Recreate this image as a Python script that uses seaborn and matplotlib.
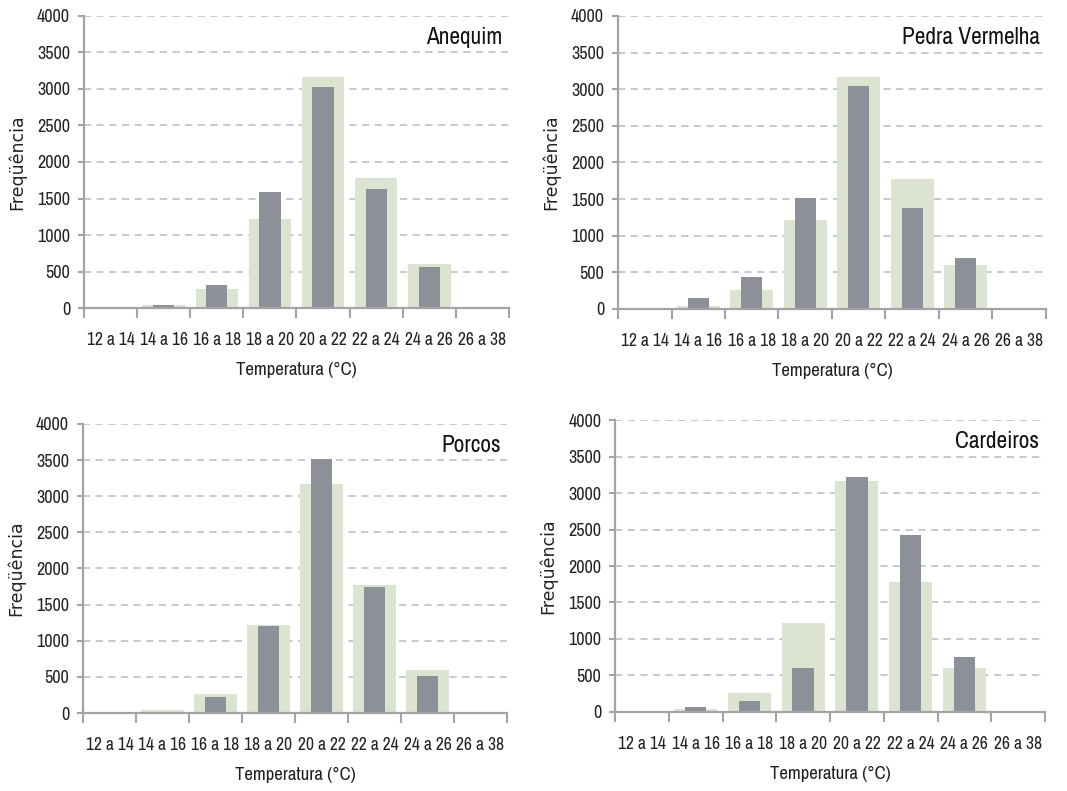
import matplotlib
matplotlib.use("Agg")
import matplotlib.pyplot as plt
from matplotlib import font_manager
import seaborn as sns
import pandas as pd
import numpy as np
from matplotlib.ticker import FixedLocator, NullFormatter

# Temperature classes (°C)
classes = ["12 a 14", "14 a 16", "16 a 18", "18 a 20", "20 a 22", "22 a 24", "24 a 26", "26 a 38"]

# Overall reference distribution (wide pale bars, identical in every panel)
overall = [5, 40, 265, 1215, 3165, 1775, 600, 10]

# Per-site frequencies (narrow grey bars)
anequim = [0, 45, 320, 1590, 3030, 1630, 565, 10]
pedra_vermelha = [0, 145, 440, 1510, 3040, 1385, 690, 10]
porcos = [0, 5, 215, 1200, 3510, 1740, 510, 5]
cardeiros = [0, 70, 145, 600, 3220, 2430, 750, 10]

sites = ["Anequim", "Pedra Vermelha", "Porcos", "Cardeiros"]
site_values = [anequim, pedra_vermelha, porcos, cardeiros]

sns.set_style("white")

# prefer a narrow face for the labels when one is available
available = {f.name for f in font_manager.fontManager.ttflist}
narrow = [n for n in sorted(available) if "Narrow" in n or "Condensed" in n]
if narrow:
    label_family = [narrow[0], "Liberation Sans", "DejaVu Sans"]
    sizes = dict(xtick=12.6, ytick=13, xlabel=13.5, name=16.8)
else:
    label_family = ["Liberation Sans", "DejaVu Sans"]
    sizes = dict(xtick=10, ytick=10.5, xlabel=11.5, name=14)
plt.rcParams["font.family"] = label_family

fig = plt.figure(figsize=(10.67, 7.91), dpi=100)
positions = [
    [0.0787, 0.6106, 0.3983, 0.3692],
    [0.5792, 0.6094, 0.4011, 0.3704],
    [0.0778, 0.0986, 0.3974, 0.3654],
    [0.5764, 0.0999, 0.4030, 0.3691],
]

pale = "#dde3d1"
grey = "#8d9098"
axis_col = "#a3a3a8"
grid_col = "#c4c4cc"
text_col = "#222222"

for pos, name, vals in zip(positions, sites, site_values):
    ax = fig.add_axes(pos)
    df_all = pd.DataFrame({"classe": classes, "freq": overall})
    df_site = pd.DataFrame({"classe": classes, "freq": vals})
    sns.barplot(data=df_all, x="classe", y="freq", color=pale, width=0.8,
                saturation=1, ax=ax, zorder=2, linewidth=0, edgecolor="none")
    sns.barplot(data=df_site, x="classe", y="freq", color=grey, width=0.4,
                saturation=1, ax=ax, zorder=3, linewidth=0, edgecolor="none")

    ax.set_xlim(-0.5, len(classes) - 0.5)
    ax.set_ylim(0, 4000)
    ax.set_yticks(np.arange(0, 4001, 500))
    ax.yaxis.grid(True, linestyle=(0, (4, 3)), color=grid_col, linewidth=1.3)
    ax.xaxis.grid(False)
    ax.set_axisbelow(True)

    for s in ["top", "right"]:
        ax.spines[s].set_visible(False)
    for s in ["left", "bottom"]:
        ax.spines[s].set_color(axis_col)
        ax.spines[s].set_linewidth(1.6)
        ax.spines[s].set_zorder(4)

    # class labels centred, tick marks on the class boundaries
    ax.tick_params(axis="x", which="major", bottom=True, length=0, pad=17,
                   labelsize=sizes["xtick"], colors=text_col)
    ax.xaxis.set_minor_locator(FixedLocator(np.arange(-0.5, len(classes), 1.0)))
    ax.xaxis.set_minor_formatter(NullFormatter())
    ax.tick_params(axis="x", which="minor", bottom=True, length=7, width=1.5,
                   color=axis_col, direction="out")
    ax.tick_params(axis="y", left=True, length=4, width=1.5, color=axis_col,
                   labelsize=sizes["ytick"], labelcolor=text_col, pad=6)

    ax.set_xlabel("Temperatura (°C)", fontsize=sizes["xlabel"], labelpad=10, color=text_col)
    ax.set_ylabel("Freqüência", fontsize=12.5, labelpad=8, color=text_col,
                  family=["DejaVu Sans"])
    ax.text(0.985, 0.925, name, transform=ax.transAxes, ha="right", va="center",
            fontsize=sizes["name"], color="#111111")

fig.savefig("out.png", dpi=100, facecolor="white")
